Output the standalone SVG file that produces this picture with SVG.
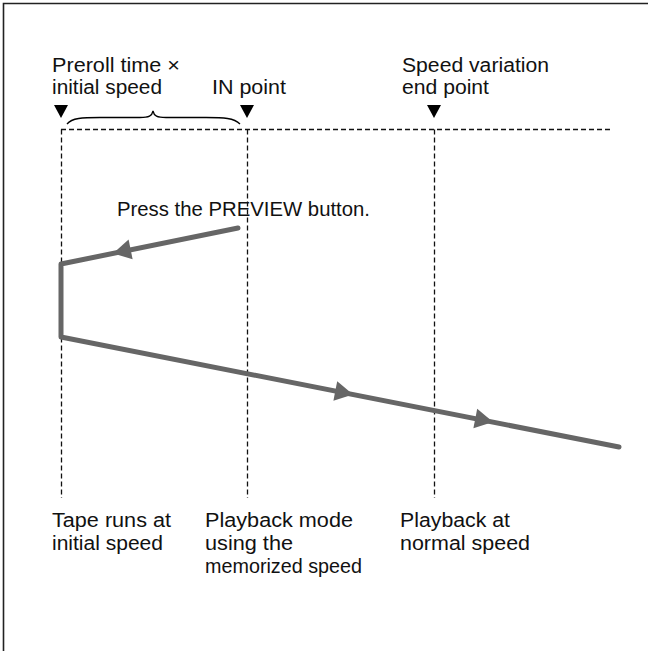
<svg xmlns="http://www.w3.org/2000/svg" width="648" height="651" viewBox="0 0 648 651">
<style>
text{font-family:"Liberation Sans",Arial,sans-serif;font-size:20px;fill:#111}
.dash{stroke:#111;stroke-width:1.3;stroke-dasharray:5,3;fill:none}
.tape{stroke:#666;stroke-width:5;fill:none;stroke-linecap:round;stroke-linejoin:round}
.head{fill:#666}
.mark{fill:#000}
</style>
<rect width="648" height="651" fill="#fff"/>
<path d="M3.5,651 V3.5 H648" fill="none" stroke="#222" stroke-width="1.6"/>
<g id="guides">
<path class="dash" d="M61,129.5 H612"/>
<path class="dash" d="M61.5,129.5 V498"/>
<path class="dash" d="M247.5,129.5 V498"/>
<path class="dash" d="M434.5,129.5 V498"/>
</g>
<g id="markers">
<polygon class="mark" points="54,105 68,105 61,118"/>
<polygon class="mark" points="240,105 254,105 247,118"/>
<polygon class="mark" points="427,105 441,105 434,118"/>
<path d="M67,124 C72,118 82,117.5 100,117.5 L140,117.5 C149,117.5 152,116 153,111 C154,116 157,117.5 166,117.5 L206,117.5 C224,117.5 234,118 240,124" fill="none" stroke="#000" stroke-width="1.3"/>
</g>
<g id="labels-top">
<text x="52" y="72" textLength="128" lengthAdjust="spacingAndGlyphs">Preroll time ×</text>
<text x="52" y="94" textLength="110" lengthAdjust="spacingAndGlyphs">initial speed</text>
<text x="212" y="94" textLength="74" lengthAdjust="spacingAndGlyphs">IN point</text>
<text x="402" y="72" textLength="147" lengthAdjust="spacingAndGlyphs">Speed variation</text>
<text x="402" y="94" textLength="87" lengthAdjust="spacingAndGlyphs">end point</text>
</g>
<g id="connectors">
<path class="tape" d="M238,228 L61,264 L61,337 L619,447"/>
<polygon class="head" points="113,253.4 128.6,239.6 132.6,259.2"/>
<polygon class="head" points="353,394.5 337.2,381.2 333.4,400.8"/>
<polygon class="head" points="493,422 477.2,408.7 473.4,428.3"/>
</g>
<g id="press-label">
<text x="117" y="216" textLength="253" lengthAdjust="spacingAndGlyphs">Press the PREVIEW button.</text>
</g>
<g id="labels-bottom">
<text x="52" y="527" textLength="119" lengthAdjust="spacingAndGlyphs">Tape runs at</text>
<text x="52" y="550" textLength="111" lengthAdjust="spacingAndGlyphs">initial speed</text>
<text x="205" y="527" textLength="148" lengthAdjust="spacingAndGlyphs">Playback mode</text>
<text x="205" y="550" textLength="88" lengthAdjust="spacingAndGlyphs">using the</text>
<text x="205" y="573" textLength="157" lengthAdjust="spacingAndGlyphs">memorized speed</text>
<text x="400" y="527" textLength="110" lengthAdjust="spacingAndGlyphs">Playback at</text>
<text x="400" y="550" textLength="130" lengthAdjust="spacingAndGlyphs">normal speed</text>
</g>
</svg>
